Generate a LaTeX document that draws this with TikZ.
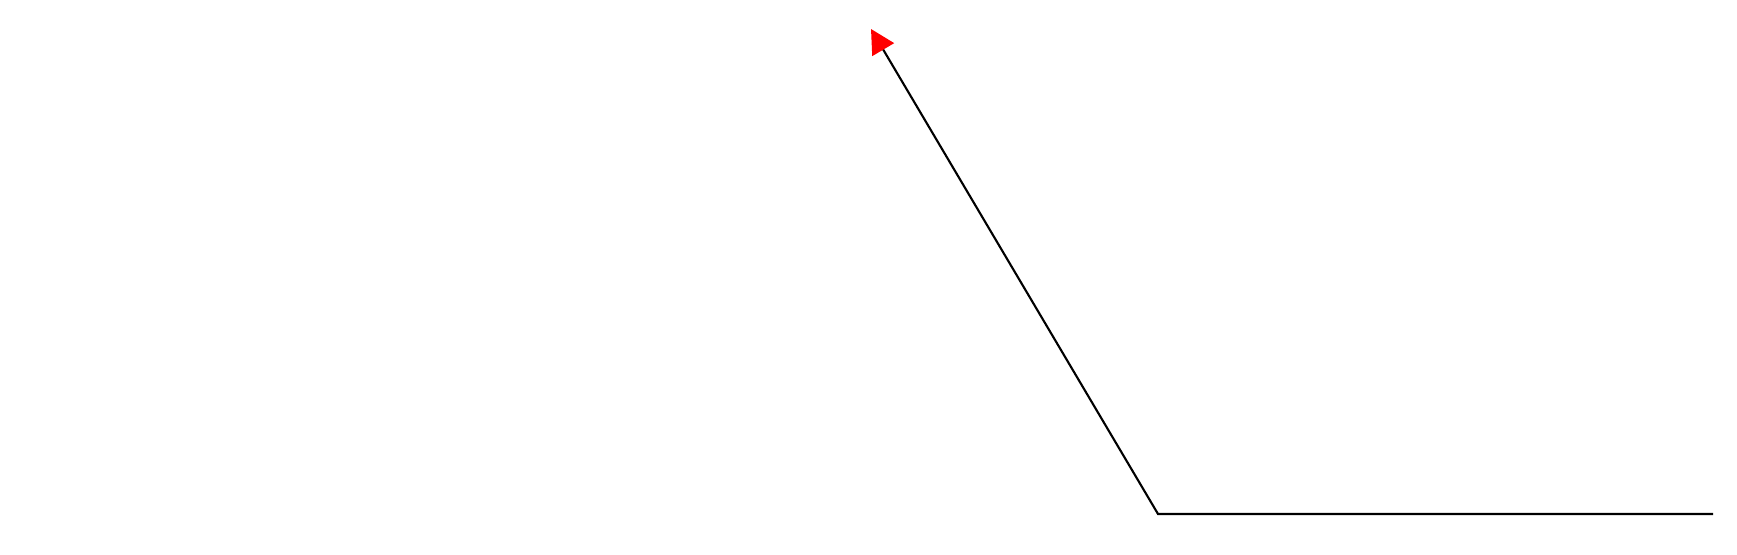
\documentclass[tikz,border=0pt]{standalone}
\usepackage{tikz}
\usetikzlibrary{arrows.meta}
\tikzstyle{ray} = [draw, line width=0.6pt, -{Triangle[red,length=0.24cm,width=0.25cm]}]

\begin{document}
\begin{tikzpicture}
            \useasboundingbox (0,0) rectangle (17.37,5.55);

            \coordinate (s)   at (17.13, 0.41);
            \coordinate (c)   at (11.58, 0.41);
            \coordinate (t)   at ( 8.71, 5.26);

            \draw[ray] (s) -- (c) -- (t);
        \end{tikzpicture}
\end{document}
